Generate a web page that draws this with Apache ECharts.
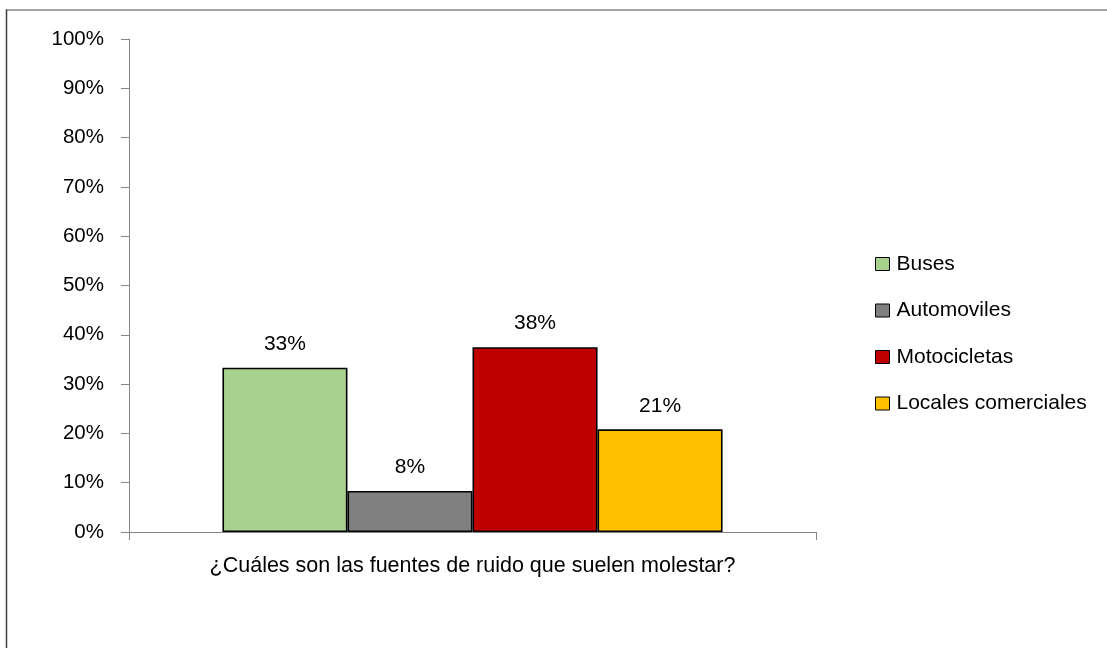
<!DOCTYPE html>
<html>
<head>
<meta charset="utf-8">
<script src="https://cdn.jsdelivr.net/npm/echarts@6/dist/echarts.min.js"></script>
<style>
html,body{margin:0;padding:0;background:#fff;}
#chart{width:1107px;height:648px;}
</style>
</head>
<body>
<div id="chart"></div>
<script>
var categories = ['¿Cuáles son las fuentes de ruido que suelen molestar?'];
var seriesNames = ['Buses', 'Automoviles', 'Motocicletas', 'Locales comerciales'];
var seriesValues = [33.33, 8.33, 37.5, 20.83];
var seriesColors = ['#A9D18E', '#808080', '#C00000', '#FFC000'];
var yTicks = [0, 10, 20, 30, 40, 50, 60, 70, 80, 90, 100];

var FONT = '"Liberation Sans", Arial, sans-serif';
var chart = echarts.init(document.getElementById('chart'), null, {renderer: 'canvas'});

var series = seriesNames.map(function (name, i) {
  return {
    name: name,
    type: 'bar',
    data: [seriesValues[i]],
    barGap: '0%',
    barCategoryGap: '27.2%',
    itemStyle: {color: seriesColors[i], borderColor: '#000', borderWidth: 1.6},
    label: {
      show: true,
      position: 'top',
      distance: 13,
      formatter: function (p) { return Math.round(p.value) + '%'; },
      fontFamily: FONT,
      fontSize: 21,
      color: '#000'
    }
  };
});

chart.setOption({
  animation: false,
  backgroundColor: '#fff',
  textStyle: {fontFamily: FONT},
  graphic: [{
    type: 'line',
    shape: {x1: 6, y1: 10, x2: 1107, y2: 10},
    style: {stroke: '#858585', lineWidth: 1.5},
    silent: true,
    z: -10
  }, {
    type: 'line',
    shape: {x1: 6.5, y1: 9.5, x2: 6.5, y2: 648},
    style: {stroke: '#3c3c3c', lineWidth: 1.5},
    silent: true,
    z: -10
  }],
  grid: {left: 129, right: 291, top: 39, bottom: 116, containLabel: false},
  legend: {
    orient: 'vertical',
    left: 870,
    top: 248.5,
    itemWidth: 14,
    itemHeight: 13,
    itemGap: 25.5,
    icon: 'rect',
    data: seriesNames,
    textStyle: {fontFamily: FONT, fontSize: 21, color: '#000', padding: [0, 0, 0, 2]},
    itemStyle: {borderColor: '#000', borderWidth: 1}
  },
  xAxis: {
    type: 'category',
    data: categories,
    axisLine: {lineStyle: {color: '#868686', width: 1}},
    axisTick: {show: true, length: 8, lineStyle: {color: '#868686'}},
    axisLabel: {fontFamily: FONT, fontSize: 21.5, color: '#000', margin: 23},
    splitLine: {show: false}
  },
  yAxis: {
    type: 'value',
    min: 0,
    max: 100,
    interval: 10,
    axisLine: {show: true, lineStyle: {color: '#868686', width: 1}},
    axisTick: {show: true, length: 8, lineStyle: {color: '#868686'}},
    axisLabel: {
      fontFamily: FONT, fontSize: 20.5, color: '#000', margin: 25,
      formatter: function (v) { return yTicks.indexOf(v) >= 0 ? v + '%' : ''; }
    },
    splitLine: {show: false}
  },
  series: series
});
</script>
</body>
</html>
